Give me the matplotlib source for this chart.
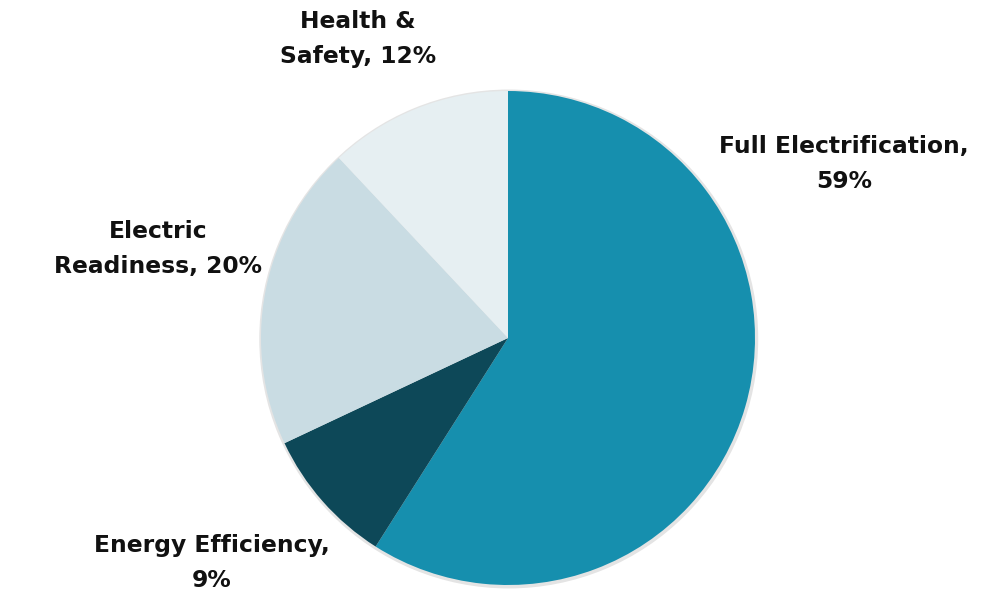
import matplotlib
matplotlib.use("Agg")
import matplotlib.pyplot as plt

categories = ["Full Electrification", "Energy Efficiency", "Electric Readiness", "Health & Safety"]
shares = [59, 9, 20, 12]
colors = ["#168fae", "#0d4858", "#c9dce3", "#e6eff2"]
label_texts = ["Full Electrification,\n59%", "Energy Efficiency,\n9%", "Electric\nReadiness, 20%", "Health &\nSafety, 12%"]
# label centres in pixels (layout only)
label_px = [(844, 164), (212, 563), (158, 249), (358, 39)]

W, H = 992, 595
cx, cy, r = 508, 338, 247

plt.rcParams['font.family'] = ['DejaVu Sans']
fig = plt.figure(figsize=(W / 100, H / 100), dpi=100)
ax = fig.add_axes([(cx - r) / W, (H - cy - r) / H, 2 * r / W, 2 * r / H])
# faint shadow ring behind the pie
ax.pie([1], colors=["#e4e4e4"], radius=1.01, center=(0.003, -0.004),
       wedgeprops={"linewidth": 0})
ax.pie(shares, colors=colors, startangle=90, counterclock=False, radius=1,
       wedgeprops={"linewidth": 0})
ax.set_xlim(-1, 1)
ax.set_ylim(-1, 1)
ax.set_aspect("equal")
ax.axis("off")

for txt, (px, py) in zip(label_texts, label_px):
    ax.text((px - cx) / r, (cy - py) / r, txt, ha="center", va="center",
            fontsize=16.8, fontweight="bold", linespacing=1.68, color="#111111")

fig.savefig("out.png", dpi=100)
